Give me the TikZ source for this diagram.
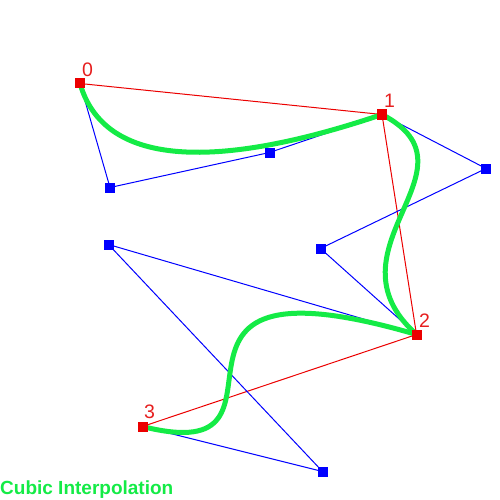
\documentclass[tikz,border=0pt]{standalone}
\usepackage{fontspec}
\setmainfont{Liberation Sans}
\definecolor{cgreen}{RGB}{20,235,70}
\definecolor{cred}{RGB}{235,0,0}
\definecolor{clab}{RGB}{230,30,30}
\definecolor{cblue}{RGB}{0,0,255}
\tikzset{
  redsq/.style={fill=cred,draw=none,minimum size=10pt,inner sep=0pt},
  bluesq/.style={fill=cblue,draw=none,minimum size=10pt,inner sep=0pt},
  ctrl/.style={cblue,line width=1pt},
  chord/.style={cred,line width=1pt},
  curve/.style={cgreen,line width=5pt},
  lab/.style={text=clab,font=\fontsize{19.5pt}{19.5pt}\selectfont,inner sep=0pt}
}
\begin{document}
\begin{tikzpicture}[x=1pt,y=-1pt]
\useasboundingbox (0,0) rectangle (500,500);
\coordinate (p0) at (80,83.5);
\coordinate (p1) at (382,114.5);
\coordinate (p2) at (416.5,334.5);
\coordinate (p3) at (142.5,426.5);
\coordinate (a1) at (110,187.5);
\coordinate (a2) at (269.5,152.5);
\coordinate (b1) at (486,168.5);
\coordinate (b2) at (320.5,248.5);
\coordinate (d1) at (108.5,244.5);
\coordinate (d2) at (322.5,471.5);
% chords
\draw[chord] (p0) -- (p1) -- (p2) -- (p3);
% control polygons
\draw[ctrl] (p0) -- (a1) -- (a2) -- (p1);
\draw[ctrl] (p1) -- (b1) -- (b2) -- (p2);
\draw[ctrl] (p2) -- (d1) -- (d2) -- (p3);
% curve
\draw[curve] (p0) .. controls (a1) and (a2) .. (p1);
\draw[curve] (p1) .. controls (b1) and (b2) .. (p2);
\draw[curve] (p2) .. controls (d1) and (d2) .. (p3);
% squares
\node[bluesq] (sa1) at (a1) {};
\node[bluesq] (sa2) at (a2) {};
\node[bluesq] (sb1) at (b1) {};
\node[bluesq] (sb2) at (b2) {};
\node[bluesq] (sd1) at (d1) {};
\node[bluesq] (sd2) at (d2) {};
\node[redsq] (s0) at (p0) {};
\node[redsq] (s1) at (p1) {};
\node[redsq] (s2) at (p2) {};
\node[redsq] (s3) at (p3) {};
% labels
\node[lab,anchor=base] (l0) at (87.5,76.5) {0};
\node[lab,anchor=base] (l1) at (389.5,107.5) {1};
\node[lab,anchor=base] (l2) at (424.5,327.5) {2};
\node[lab,anchor=base] (l3) at (149.5,418.5) {3};
\node[anchor=base west,inner sep=0pt,text=cgreen,font=\bfseries\fontsize{19pt}{19pt}\selectfont] (title) at (0,494) {Cubic Interpolation};
\end{tikzpicture}
\end{document}
